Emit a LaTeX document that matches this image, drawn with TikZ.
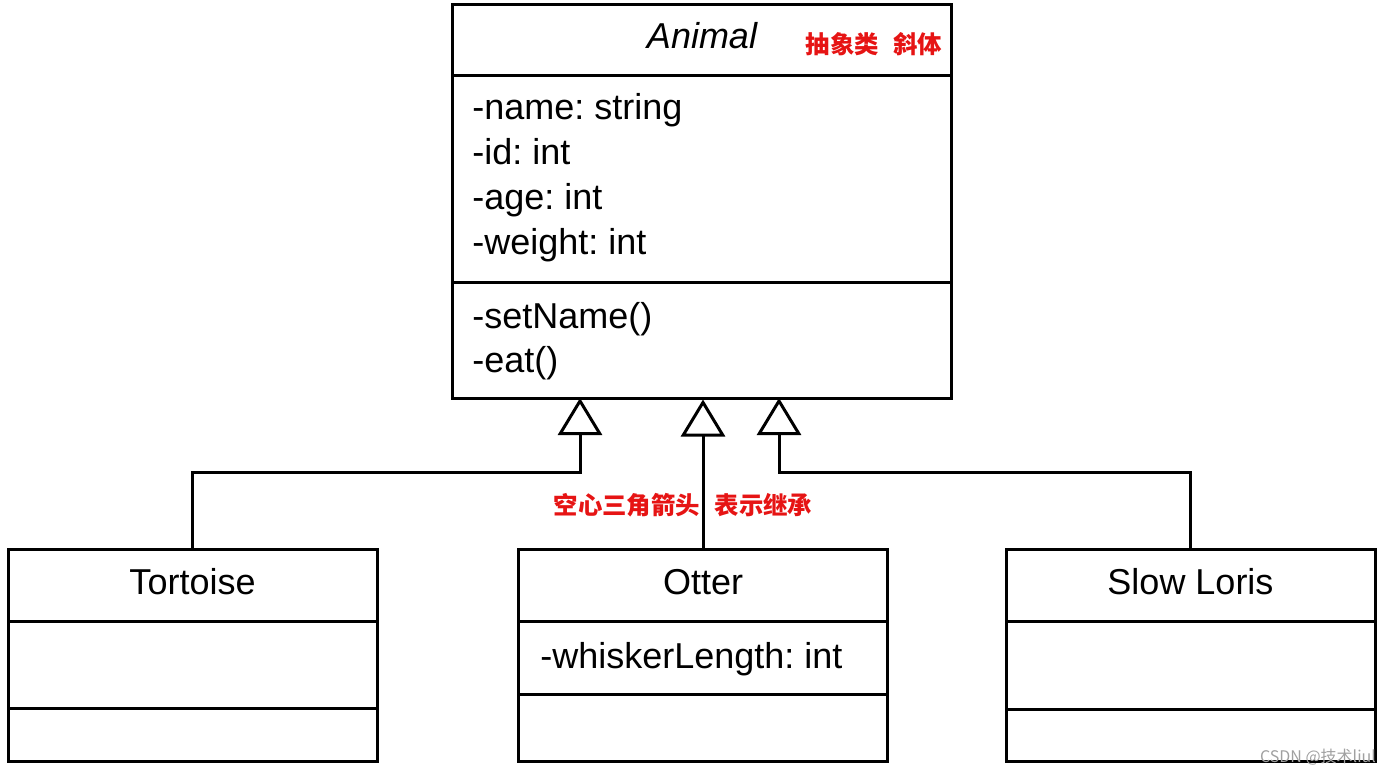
\documentclass[tikz,border=0pt]{standalone}
\usepackage{fontspec}
\setmainfont{Liberation Sans}
\newfontfamily\cjk{Noto Sans CJK SC}
\usepackage{xcolor}
\usetikzlibrary{arrows.meta,positioning,calc}
\definecolor{notered}{RGB}{230,20,20}
\definecolor{markgray}{RGB}{160,160,160}
\frenchspacing

\begin{document}
\begin{tikzpicture}[
    x=0.5pt, y=-0.5pt,
    classbox/.style={rectangle, draw, line width=1.5pt, inner sep=0pt, minimum width=369*0.5pt, minimum height=212*0.5pt},
    divider/.style={line width=1.5pt},
    member/.style={anchor=base west, inner sep=0pt, font=\fontsize{18}{22}\selectfont},
    title/.style={anchor=base, inner sep=0pt, font=\fontsize{18}{22}\selectfont},
    note/.style={inner sep=0pt, text=notered, font=\cjk\bfseries\fontsize{12.2}{14}\selectfont},
    inherit/.style={line width=1.5pt, -{Triangle[open, width=22pt, length=18.5pt, fill=white]}}
]
\useasboundingbox (0,0) rectangle (1386,776);

% abstract base class
\node[classbox, minimum width=499*0.5pt, minimum height=394*0.5pt] (animal) at (701.5,201) {};
\draw[divider] (452,75) -- (951,75);
\draw[divider] (452,282) -- (951,282);
\node[title, font=\fontsize{18}{22}\selectfont\itshape] (animalName) at (702,48) {Animal};
\node[note] (abstractNote) at (874,44) {抽象类\hspace{0.6em}斜体};
\node[member] (attrName) at (472,119) {-name: string};
\node[member] (attrId) at (472,164) {-id: int};
\node[member] (attrAge) at (472,209) {-age: int};
\node[member] (attrWeight) at (472,254) {-weight: int};
\node[member] (opSetName) at (472,328) {-setName()};
\node[member] (opEat) at (472,372) {-eat()};

% subclasses
\node[classbox] (tortoise) at (192.5,655) {};
\draw[divider] (8,621) -- (377,621);
\draw[divider] (8,708) -- (377,708);
\node[title] (tortoiseName) at (192.5,594) {Tortoise};

\node[classbox] (otter) at (703,655) {};
\draw[divider] (519,621) -- (887,621);
\draw[divider] (519,694) -- (887,694);
\node[title] (otterName) at (703,594) {Otter};
\node[member] (attrWhisker) at (540,668) {-whiskerLength: int};

\node[classbox] (loris) at (1190.5,655) {};
\draw[divider] (1006,621) -- (1375,621);
\draw[divider] (1006,709) -- (1375,709);
\node[title] (lorisName) at (1190.5,594) {Slow Loris};

% generalization arrows
\coordinate (tipT) at (580,398);
\coordinate (tipL) at (779,398);
\draw[inherit] (tortoise.north) -- ++(0,-75) -| (tipT);
\draw[inherit] (otter.north) -- (otter.north |- animal.south);
\draw[inherit] (loris.north) -- ++(0,-75) -| (tipL);

\node[note] (inheritNote) at (683,505) {空心三角箭头\hspace{0.6em}表示继承};

\node[inner sep=0pt, text=markgray, font=\cjk\fontsize{8}{10}\selectfont] (mark) at (1318,757) {CSDN @技术liul};

\end{tikzpicture}
\end{document}
